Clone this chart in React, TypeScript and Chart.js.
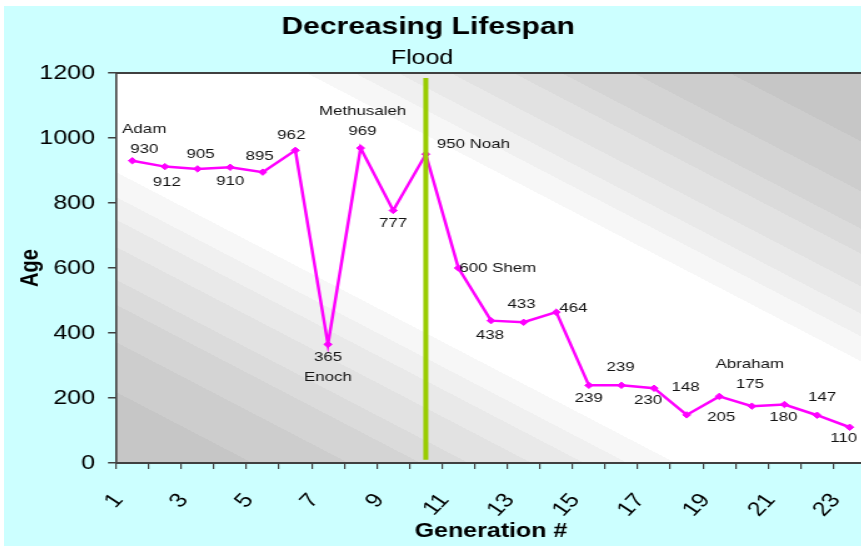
import React, { useEffect, useRef } from "react";
import { Chart, registerables } from "chart.js";

Chart.register(...registerables);

// ---- data ----
const generations = ["1", "2", "3", "4", "5", "6", "7", "8", "9", "10", "11", "12", "13", "14", "15", "16", "17", "18", "19", "20", "21", "22", "23"];
const ages = [930, 912, 905, 910, 895, 962, 365, 969, 777, 950, 600, 438, 433, 464, 239, 239, 230, 148, 205, 175, 180, 147, 110];
const names = ["Adam", "", "", "", "", "", "Enoch", "Methusaleh", "", "Noah", "Shem", "", "", "", "", "", "", "", "", "Abraham", "", "", ""];
const floodGeneration = "10";
const floodSpan = [10, 1185];
const yMin = 0;
const yMax = 1200;
const yStep = 200;

// label placement: [where, dx(px), dy of first line(px)]
const labelPlace: [string, number, number][] = [
  ["above", 12, -31], ["below", 2, 16], ["above", 3, -15], ["below", 0, 14], ["above", -3, -16],
  ["above", -4, -15], ["below", 0, 13], ["above", 2, -37], ["below", 0, 13], ["right", 11, -10],
  ["right", 1, 0], ["below", -1, 15], ["above", -2, -18], ["right", 3, -4], ["below", 0, 13],
  ["above", -1, -18], ["below", -6, 12], ["above", -1, -28], ["below", 2, 21], ["above", -2, -42],
  ["below", -1, 13], ["above", 5, -18], ["below", -6, 11],
];

const S = 1.25; // horizontal stretch of the picture
const FONT = "'Liberation Sans', Arial, sans-serif";
const CW = 700;
const CH = 540;

function labelLines(i: number): string[] {
  const v = String(ages[i]);
  const n = names[i];
  const where = labelPlace[i][0];
  if (!n) return [v];
  if (where === "right") return [v + " " + n];
  if (where === "above") return [n, v];
  return [v, n];
}

const backgroundPlugin = {
  id: "bgPlot",
  beforeDraw(chart: any) {
    const { ctx, chartArea: a, width, height } = chart;
    ctx.save();
    ctx.fillStyle = "#ccffff";
    ctx.fillRect(0, 0, width, height);
    const w = a.right - a.left;
    const h = a.bottom - a.top;
    const cx = (a.left + a.right) / 2;
    const cy = (a.top + a.bottom) / 2;
    const len = Math.hypot(w, h);
    const nx = h / len;
    const ny = -w / len;
    const half = (w * h) / len;
    const g = ctx.createLinearGradient(cx - nx * half, cy - ny * half, cx + nx * half, cy + ny * half);
    const bounds = [0, 0.091, 0.155, 0.203, 0.235, 0.277, 0.312, 0.341, 0.373];
    const greys = [0xc6, 0xcd, 0xd4, 0xdb, 0xe2, 0xe9, 0xf0, 0xf7];
    const col = (v: number) => `rgb(${v},${v},${v})`;
    for (let k = 0; k < greys.length; k++) {
      const t0 = bounds[k];
      const t1 = bounds[k + 1];
      g.addColorStop(t0, col(greys[k]));
      g.addColorStop(t1 - 0.0001, col(greys[k]));
      g.addColorStop(1 - t1 + 0.0001, col(greys[k]));
      g.addColorStop(1 - t0, col(greys[k]));
    }
    g.addColorStop(0.373, "#ffffff");
    g.addColorStop(0.627, "#ffffff");
    ctx.fillStyle = g;
    ctx.fillRect(a.left, a.top, w, h);
    ctx.restore();
  },
  afterDraw(chart: any) {
    const { ctx, chartArea: a } = chart;
    ctx.save();
    // top border of the plot area
    ctx.strokeStyle = "#404040";
    ctx.lineWidth = 2;
    ctx.beginPath();
    ctx.moveTo(a.left, a.top);
    ctx.lineTo(a.right, a.top);
    ctx.stroke();
    // title
    ctx.fillStyle = "#000000";
    ctx.textBaseline = "middle";
    ctx.textAlign = "center";
    ctx.font = `bold 24px ${FONT}`;
    ctx.fillText("Decreasing Lifespan", 339.4, 21);
    // flood label above the flood line
    const xs = chart.scales.x;
    const fx = xs.getPixelForValue(generations.indexOf(floodGeneration));
    ctx.font = `20px ${FONT}`;
    ctx.fillText("Flood", fx - 3, 52.5);
    ctx.restore();
  },
};

const dataLabelPlugin = {
  id: "dataLabels",
  afterDatasetsDraw(chart: any) {
    const { ctx } = chart;
    const meta = chart.getDatasetMeta(0);
    ctx.save();
    ctx.font = `13.5px ${FONT}`;
    ctx.fillStyle = "#141414";
    ctx.textBaseline = "middle";
    meta.data.forEach((pt: any, i: number) => {
      const [where, dx, dy] = labelPlace[i];
      ctx.textAlign = where === "right" ? "left" : "center";
      const lines = labelLines(i);
      lines.forEach((ln, j) => {
        ctx.fillText(ln, pt.x + dx / S, pt.y + dy + j * 20);
      });
    });
    ctx.restore();
  },
};

export default function App() {
  const ref = useRef<HTMLCanvasElement>(null);
  useEffect(() => {
    if (!ref.current) return;
    const chart = new Chart(ref.current, {
      type: "line",
      data: {
        labels: generations,
        datasets: [
          {
            label: "Age",
            data: ages,
            borderColor: "#ff00ff",
            backgroundColor: "#ff00ff",
            borderWidth: 2.5,
            pointStyle: "rectRot",
            pointRadius: 3.2,
            pointBorderWidth: 1,
            tension: 0,
            order: 1,
          },
          {
            label: "Flood",
            data: [
              { x: floodGeneration, y: floodSpan[0] },
              { x: floodGeneration, y: floodSpan[1] },
            ] as any,
            borderColor: "#99cc00",
            borderWidth: 4,
            pointRadius: 0,
            order: 0,
          },
        ],
      },
      options: {
        responsive: false,
        animation: false,
        devicePixelRatio: 1,
        layout: { padding: { top: 67, right: 10.4, left: 0, bottom: 0 } },
        plugins: {
          legend: { display: false },
          title: { display: false },
          tooltip: { enabled: false },
        },
        scales: {
          x: {
            type: "category",
            offset: true,
            grid: { offset: true, drawOnChartArea: false, drawTicks: true, tickLength: 6, color: "#404040", lineWidth: 1.2 },
            border: { display: true, color: "#404040", width: 2 },
            ticks: {
              autoSkip: false,
              maxRotation: 51,
              minRotation: 51,
              labelOffset: -11,
              padding: 20,
              color: "#000000",
              font: { family: FONT, size: 20 },
              callback: (_v: any, i: number) => (i % 2 === 0 ? generations[i] : ""),
            },
            title: {
              display: true,
              text: "Generation #",
              color: "#000000",
              font: { family: FONT, size: 20, weight: "bold" },
              padding: { top: 4, bottom: 3 },
            },
            afterFit: (s: any) => {
              s.height = CH - 457;
              s.paddingLeft = 0;
              s.paddingRight = 0;
            },
          },
          y: {
            min: yMin,
            max: yMax,
            grid: { drawOnChartArea: false, drawTicks: true, tickLength: 6.4, color: "#404040", lineWidth: 1.5 },
            border: { display: true, color: "#404040", width: 1.6 },
            ticks: {
              stepSize: yStep,
              padding: 10.4,
              color: "#000000",
              font: { family: FONT, size: 20 },
              callback: (v: any) => String(v),
            },
            title: {
              display: true,
              text: "Age",
              color: "#000000",
              font: { family: FONT, size: 20, weight: "bold" },
              padding: { top: 9, bottom: 4 },
            },
            afterFit: (s: any) => {
              s.width = 89.6;
              s.paddingTop = 0;
              s.paddingBottom = 0;
            },
          },
        },
      },
      plugins: [backgroundPlugin, dataLabelPlugin],
    });
    return () => chart.destroy();
  }, []);

  return (
    <div style={{ position: "fixed", left: 0, top: 0, width: 861, height: 546, overflow: "hidden", background: "#ffffff" }}>
      <div style={{ position: "absolute", left: 4, top: 6, width: CW, height: CH, transform: `scaleX(${S})`, transformOrigin: "0 0" }}>
        <canvas ref={ref} width={CW} height={CH} style={{ display: "block" }} />
      </div>
    </div>
  );
}
